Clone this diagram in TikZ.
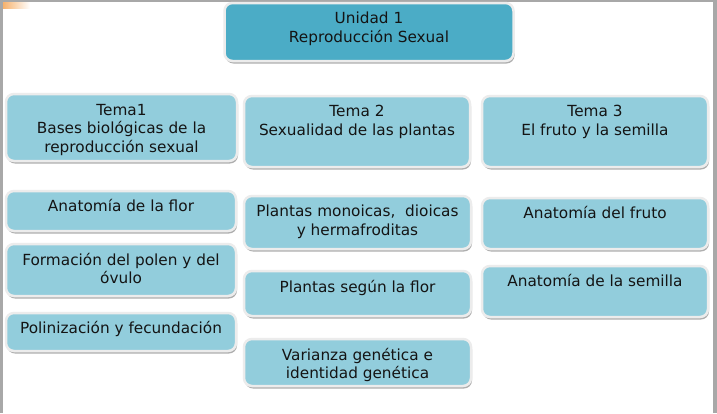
\documentclass[tikz,border=0pt]{standalone}
\usepackage{fontspec}
\setmainfont{DejaVu Sans}
\usetikzlibrary{shadows}
\definecolor{darkbox}{HTML}{4BACC6}
\definecolor{lightbox}{HTML}{92CDDC}
\definecolor{boxedge}{HTML}{ECECEC}
\definecolor{txt}{HTML}{141414}
\definecolor{framegray}{HTML}{A8A8A8}
\tikzset{
  card/.style={rounded corners=8pt, fill=lightbox, draw=boxedge, line width=2.5pt,
    drop shadow={shadow xshift=1pt, shadow yshift=-2.5pt, fill=gray!70, opacity=0.9},
    inner sep=0pt},
  topcard/.style={card, fill=darkbox},
  lbl/.style={anchor=north, align=center, inner sep=0pt, text=txt,
    font=\fontsize{15.3}{18.8}\selectfont}
}
\begin{document}
\begin{tikzpicture}[x=1pt,y=-1pt]
\useasboundingbox (0,0) rectangle (717,413);
\fill[white] (0,0) rectangle (717,413);
% frame
\fill[framegray] (0,0) rectangle (3,413);
\fill[framegray] (0,0) rectangle (717,2);
\fill[framegray] (713,0) rectangle (717,413);
\shade[left color=orange!80!brown, right color=white, opacity=0.6] (3,2) rectangle (30,8);
% top
\node[topcard, minimum width=289, minimum height=58] (u) at (369,32) {};
\node[lbl] at ([yshift=-10]u.north) {Unidad 1\\Reproducción Sexual};
% temas
\node[card, minimum width=231, minimum height=67] (t1) at (121.5,127.5) {};
\node[lbl] at ([yshift=-11]t1.north) {Tema1\\Bases biológicas de la\\reproducción sexual};
\node[card, minimum width=226, minimum height=71] (t2) at (357,131.5) {};
\node[lbl] at ([yshift=-10]t2.north) {Tema 2\\Sexualidad de las plantas};
\node[card, minimum width=226, minimum height=71] (t3) at (595,131.5) {};
\node[lbl] at ([yshift=-10]t3.north) {Tema 3\\El fruto y la semilla};
% left column
\node[card, minimum width=230, minimum height=40] (l1) at (121,211) {};
\node[lbl] at ([yshift=-9]l1.north) {Anatomía de la flor};
\node[card, minimum width=230, minimum height=52] (l2) at (121,270) {};
\node[lbl] at ([yshift=-10]l2.north) {Formación del polen y del\\óvulo};
\node[card, minimum width=230, minimum height=38] (l3) at (121,332) {};
\node[lbl] at ([yshift=-9]l3.north) {Polinización y fecundación};
% middle column
\node[card, minimum width=227, minimum height=53] (m1) at (357.5,222.5) {};
\node[lbl] at ([yshift=-10]m1.north) {Plantas monoicas,~ dioicas\\y hermafroditas};
\node[card, minimum width=227, minimum height=45] (m2) at (357.5,293.5) {};
\node[lbl] at ([yshift=-10]m2.north) {Plantas según la flor};
\node[card, minimum width=227, minimum height=47] (m3) at (357.5,362.5) {};
\node[lbl] at ([yshift=-10]m3.north) {Varianza genética e\\identidad genética};
% right column
\node[card, minimum width=226, minimum height=51] (r1) at (595,223.5) {};
\node[lbl] at ([yshift=-9]r1.north) {Anatomía del fruto};
\node[card, minimum width=226, minimum height=51] (r2) at (595,291.5) {};
\node[lbl] at ([yshift=-9]r2.north) {Anatomía de la semilla};
\end{tikzpicture}
\end{document}
